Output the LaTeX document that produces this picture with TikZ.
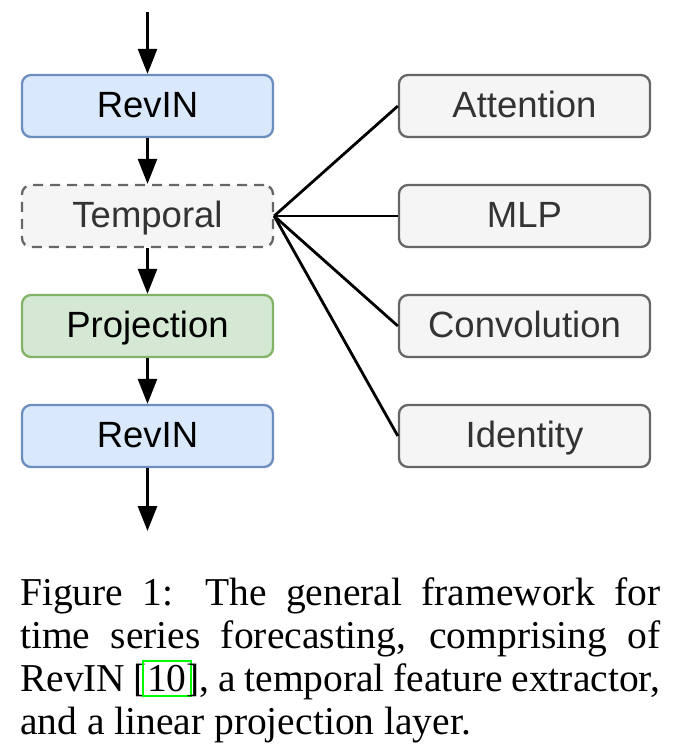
\documentclass[tikz,border=0pt]{standalone}
\usepackage{fontspec}
\setmainfont{Liberation Serif}
\newfontfamily\boxfont{Liberation Sans}
\usetikzlibrary{arrows.meta}
\definecolor{bluefill}{HTML}{DAE8FC}
\definecolor{bluedraw}{HTML}{6C8EBF}
\definecolor{greenfill}{HTML}{D5E8D4}
\definecolor{greendraw}{HTML}{82B366}
\definecolor{grayfill}{HTML}{F5F5F5}
\definecolor{graydraw}{HTML}{666666}
\definecolor{graytext}{HTML}{333333}
\definecolor{linkgreen}{RGB}{0,255,0}
\newsavebox\lbbox
\newcommand\linkbox[1]{\sbox\lbbox{#1}\makebox[\wd\lbbox]{{\setlength\fboxsep{3pt}\setlength\fboxrule{2pt}\color{linkgreen}\fbox{\color{black}#1}}}}
\tikzset{
  blk/.style={draw, rounded corners=9pt, line width=2.3pt, minimum width=251pt, minimum height=62pt, inner sep=0pt, text height=29pt, text depth=5.5pt, font=\boxfont\fontsize{36.5}{43}\selectfont},
  bluebox/.style={blk, fill=bluefill, draw=bluedraw, text=black},
  greenbox/.style={blk, fill=greenfill, draw=greendraw, text=black},
  graybox/.style={blk, fill=grayfill, draw=graydraw, text=graytext},
  dashbox/.style={graybox, dash pattern=on 10pt off 7pt},
  arr/.style={line width=2.8pt, -{Triangle[length=25pt,width=19pt]}},
  conn/.style={line width=2.8pt}
}
\begin{document}
\begin{tikzpicture}[x=1pt,y=-1pt]
\useasboundingbox (0,0) rectangle (693,748);
\node[bluebox] (rev1) at (147.5,106) {RevIN};
\node[dashbox] (temp) at (147.5,216) {Temporal};
\node[greenbox] (proj) at (147.5,326) {Projection};
\node[bluebox] (rev2) at (147.5,436) {RevIN};
\node[graybox] (att) at (524.5,106) {Attention};
\node[graybox] (mlp) at (524.5,216) {MLP};
\node[graybox] (conv) at (524.5,326) {Convolution};
\node[graybox] (iden) at (524.5,436) {Identity};
\coordinate (in) at (147.5,12);
\coordinate (out) at (147.5,531);
\draw[arr] (in) -- (rev1.north);
\draw[arr] (rev1.south) -- (temp.north);
\draw[arr] (temp.south) -- (proj.north);
\draw[arr] (proj.south) -- (rev2.north);
\draw[arr] (rev2.south) -- (out);
\draw[conn] (temp.east) -- (att.west);
\draw[conn] (temp.east) -- (mlp.west);
\draw[conn] (temp.east) -- (conv.west);
\draw[conn] (temp.east) -- (iden.west);
\node[anchor=north west, inner sep=0pt, text width=640pt, align=justify, font=\fontsize{39.5}{43.3}\selectfont] (cap) at (20,577)
{\hyphenpenalty=10000 Figure 1: The general framework for\linebreak time series forecasting, comprising of\linebreak RevIN [\linkbox{10}], a temporal feature extractor,\linebreak and a linear projection layer.};
\end{tikzpicture}
\end{document}
